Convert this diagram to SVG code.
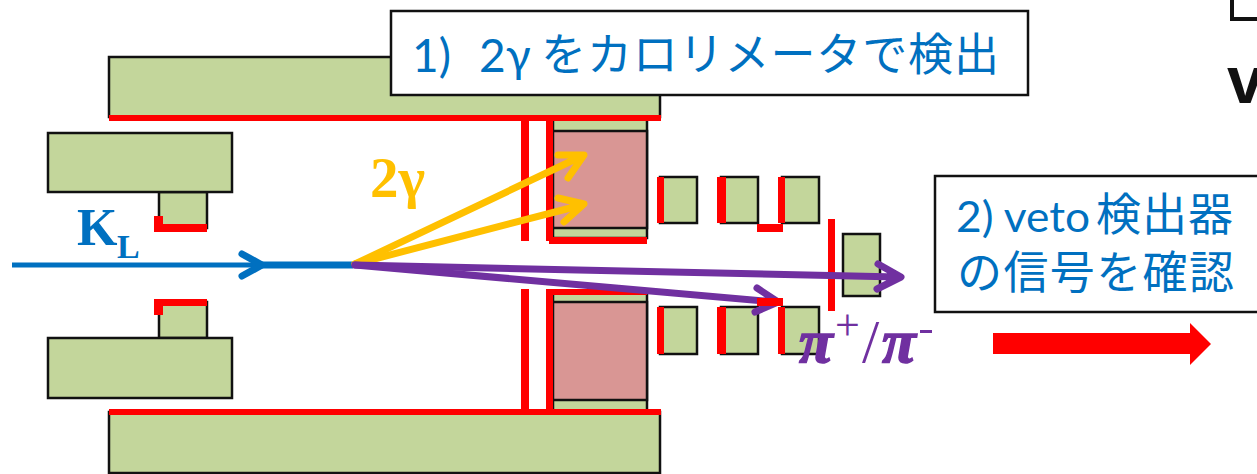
<svg xmlns="http://www.w3.org/2000/svg" width="1257" height="474" viewBox="0 0 1257 474">
<style>
.g{fill:#c3d69b;stroke:#111;stroke-width:2.5}
.p{fill:#d99694;stroke:#111;stroke-width:2.5}
.r{fill:#ff0000}
.o{fill:none;stroke:#ffc000;stroke-width:7;stroke-linecap:round;stroke-linejoin:round}
.v{fill:none;stroke:#7030a0;stroke-width:7;stroke-linecap:round;stroke-linejoin:round}
.b{fill:none;stroke:#0070c0;stroke-linejoin:round}
.box{fill:#fff;stroke:#111;stroke-width:2.5}
.t{fill:#0070c0;font-family:"Noto Sans CJK JP","Noto Sans",sans-serif;font-size:45px}
.l{fill:#0070c0;font-family:"Lato","Noto Sans",sans-serif;font-size:46px}
.s{font-family:"Liberation Serif",serif;font-weight:bold}
</style>
<g id="calorimeter-top"><rect class="g" x="553" y="119" width="94" height="119"/><rect class="p" x="553" y="131" width="94" height="97"/><rect class="r" x="521" y="119" width="8" height="122"/><rect class="r" x="546" y="119" width="7" height="122"/><rect class="r" x="549" y="237" width="98" height="7"/></g>
<g id="calorimeter-bottom"><rect class="g" x="553" y="292" width="94" height="119"/><rect class="p" x="553" y="302" width="94" height="98"/><rect class="r" x="521" y="289" width="8" height="122"/><rect class="r" x="546" y="289" width="7" height="122"/><rect class="r" x="549" y="289" width="98" height="6"/></g>
<g id="top-wall"><rect class="g" x="109" y="57" width="551" height="60"/><rect class="r" x="109" y="115" width="552" height="6"/></g>
<g id="bottom-wall"><rect class="g" x="109" y="412" width="551" height="61"/><rect class="r" x="109" y="409" width="552" height="6"/></g>
<g id="upstream-top"><rect class="g" x="159" y="192" width="48" height="36"/><rect class="g" x="48" y="133" width="184" height="59"/><path class="r" d="M154 216h9v8h44v8h-53z"/></g>
<g id="upstream-bottom"><rect class="g" x="159" y="302" width="48" height="36"/><rect class="g" x="48" y="338" width="184" height="60"/><path class="r" d="M154 299h53v7h-44v9h-9z"/></g>
<g id="veto-top"><rect class="g" x="660" y="177" width="37" height="46"/><rect class="r" x="657" y="177" width="7" height="46"/><rect class="g" x="721" y="177" width="37" height="46"/><rect class="r" x="717" y="177" width="9" height="46"/><rect class="g" x="782" y="177" width="37" height="46"/><rect class="r" x="778" y="177" width="7" height="46"/><rect class="r" x="757" y="224" width="26" height="8"/></g>
<g id="veto-bottom"><rect class="g" x="660" y="307" width="37" height="47"/><rect class="r" x="657" y="307" width="7" height="47"/><rect class="g" x="721" y="307" width="37" height="47"/><rect class="r" x="717" y="307" width="9" height="47"/><rect class="g" x="782" y="307" width="37" height="47"/><rect class="r" x="778" y="307" width="7" height="47"/></g>
<g id="veto-end"><rect class="g" x="843" y="234" width="37" height="62"/><rect class="r" x="828" y="219" width="7" height="92"/></g>
<g id="connectors">
<path class="b" stroke-width="5" d="M12 265H262"/>
<path class="b" stroke-width="7" stroke-linecap="round" d="M242 254L262 265L242 276"/>
<path class="b" stroke-width="7" d="M262 265H353"/>
<path class="o" d="M355 264L582 156M558 155L584 155L568 178"/>
<path class="o" d="M355 264L582 205M558 198L584 204L564 222"/>
<path class="v" d="M355 265L898 277M878 264L901 277L877 289"/>
<path class="v" d="M355 265L776 302M757 288L778 302L755 312"/>
</g>
<g id="veto-bar"><rect class="r" x="757" y="298" width="26" height="8"/></g>
<g id="label-kl"><text class="s" x="77" y="245" font-size="52" fill="#0070c0">K</text><text class="s" x="117" y="258" font-size="34" fill="#0070c0">L</text></g>
<g id="label-2g"><text class="s" x="370" y="197" font-size="57" fill="#ffc000">2γ</text></g>
<g id="label-pi" fill="#7030a0"><text class="s" x="799" y="362" font-size="62" font-style="italic" stroke="#7030a0" stroke-width="1.5">π</text><text x="835" y="340" font-size="44" font-family="Liberation Serif,serif">+</text><text x="862" y="362" font-size="62" font-family="Liberation Serif,serif">/</text><text class="s" x="882" y="362" font-size="62" font-style="italic" stroke="#7030a0" stroke-width="1.5">π</text><rect x="920" y="330" width="12" height="3"/></g>
<g id="box-1"><rect class="box" x="391" y="11" width="637" height="84"/><text class="l" x="412" y="72">1)</text><text class="l" x="479" y="72">2γ</text><text class="t" x="541" y="71" textLength="458">をカロリメータで検出</text></g>
<g id="box-2"><rect class="box" x="935" y="176" width="330" height="136"/><text class="l" x="956" y="232" style="font-size:42px" textLength="134" lengthAdjust="spacingAndGlyphs">2) veto</text><text class="t" x="1096" y="231" textLength="137">検出器</text><text class="t" x="957" y="289" textLength="277">の信号を確認</text></g>
<g id="red-arrow"><path class="r" d="M993 333H1190V323L1211 344L1190 365V354H993z"/></g>
<g id="cropped-text"><path d="M1232 0V19H1257" fill="none" stroke="#111" stroke-width="4"/><text x="1227" y="103" font-size="66" font-weight="bold" font-family="Liberation Sans,sans-serif" fill="#111">v</text></g>
</svg>
